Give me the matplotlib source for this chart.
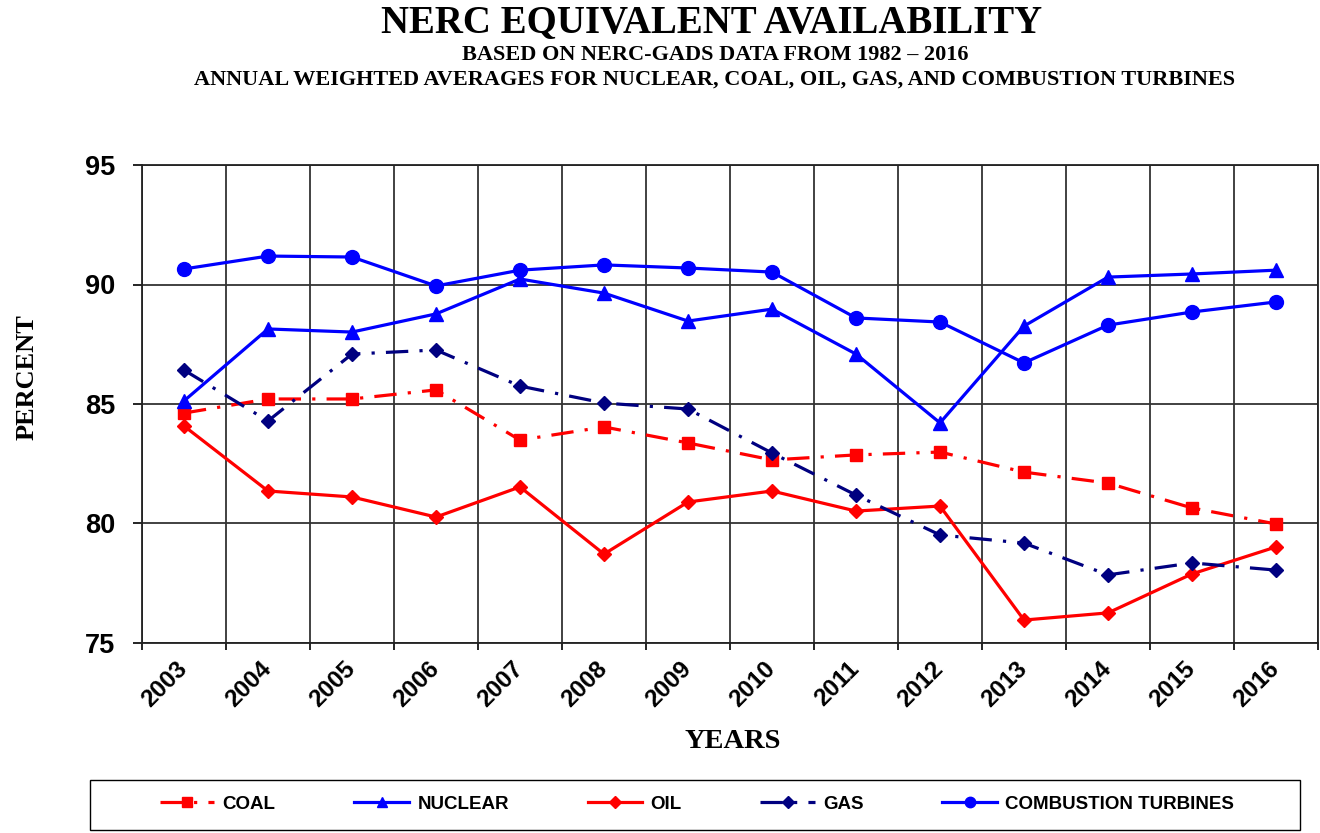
import matplotlib
matplotlib.use("Agg")
import matplotlib.pyplot as plt
from matplotlib.ticker import FixedLocator, MultipleLocator
from matplotlib.patches import Rectangle

years = ["2003", "2004", "2005", "2006", "2007", "2008", "2009",
         "2010", "2011", "2012", "2013", "2014", "2015", "2016"]
coal = [84.62, 85.21, 85.21, 85.59, 83.49, 84.04, 83.37, 82.66, 82.87, 82.99, 82.15, 81.69, 80.65, 79.98]
nuclear = [85.13, 88.14, 88.01, 88.77, 90.23, 89.64, 88.47, 88.97, 87.09, 84.21, 88.26, 90.31, 90.44, 90.60]
oil = [84.08, 81.36, 81.11, 80.27, 81.53, 78.72, 80.90, 81.36, 80.52, 80.73, 75.96, 76.26, 77.89, 79.02]
gas = [86.42, 84.29, 87.09, 87.26, 85.75, 85.04, 84.79, 82.95, 81.19, 79.52, 79.18, 77.85, 78.35, 78.05]
turbines = [90.65, 91.19, 91.15, 89.94, 90.60, 90.82, 90.69, 90.52, 88.60, 88.43, 86.72, 88.30, 88.85, 89.27]

W, H = 1320, 833
fig = plt.figure(figsize=(W / 100, H / 100), dpi=100)
ax = fig.add_axes([142 / W, 1 - 643 / H, (1318 - 142) / W, (643 - 165) / H])

x = list(range(len(years)))
lw = 2.3
dd = (7, 3.5, 1, 3.5)
ax.plot(x, coal, color="#FF0000", lw=lw, dashes=dd, marker="s", ms=9, label="COAL", zorder=3)
ax.plot(x, nuclear, color="#0000FF", lw=lw, marker="^", ms=9.5, label="NUCLEAR", zorder=3)
ax.plot(x, oil, color="#FF0000", lw=lw, marker="D", ms=7.5, label="OIL", zorder=3)
ax.plot(x, gas, color="#000080", lw=lw, dashes=dd, marker="D", ms=7.5, label="GAS", zorder=3)
ax.plot(x, turbines, color="#0000FF", lw=lw, marker="o", ms=10, label="COMBUSTION TURBINES", zorder=3)

ax.set_xlim(-0.5, len(years) - 0.5)
ax.set_ylim(75, 95)
ax.yaxis.set_major_locator(MultipleLocator(5))
ax.set_xticks(x)
ax.set_xticklabels(years, rotation=45, ha="right", va="center", rotation_mode="anchor",
                   fontsize=17.5, fontweight="bold", family="Liberation Sans")
ax.xaxis.set_minor_locator(FixedLocator([i - 0.5 for i in range(len(years) + 1)]))
ax.tick_params(axis="x", which="major", length=0, pad=16)
ax.tick_params(axis="x", which="minor", length=5, width=1.2, direction="out")
ax.tick_params(axis="y", length=6.5, width=1.2, direction="out", pad=13)
for lab in ax.get_yticklabels():
    lab.set_fontsize(19.5)
    lab.set_fontweight("bold")
    lab.set_family("Liberation Sans")

ax.grid(True, which="minor", axis="x", color="#333333", lw=1.3)
ax.grid(True, which="major", axis="y", color="#333333", lw=1.3)
ax.grid(False, which="major", axis="x")
for s in ax.spines.values():
    s.set_linewidth(1.3)
    s.set_color("#222222")

fig.text(712 / W, 1 - 23 / H, "NERC EQUIVALENT AVAILABILITY", ha="center", va="center",
         fontsize=28, fontweight="bold", family="Liberation Serif")
fig.text(715 / W, 1 - 55 / H, "BASED ON NERC-GADS DATA FROM 1982 \u2013 2016", ha="center", va="center",
         fontsize=16, fontweight="bold", family="Liberation Serif")
fig.text(715 / W, 1 - 80 / H,
         "ANNUAL WEIGHTED AVERAGES FOR NUCLEAR, COAL, OIL, GAS, AND COMBUSTION TURBINES",
         ha="center", va="center", fontsize=16, fontweight="bold", family="Liberation Serif")
fig.text(27 / W, 1 - 377 / H, "PERCENT", rotation=90, ha="center", va="center",
         fontsize=19, fontweight="bold", family="Liberation Serif")
fig.text(733 / W, 1 - 742 / H, "YEARS", ha="center", va="center",
         fontsize=20.5, fontweight="bold", family="Liberation Serif")

fig.patches.append(Rectangle((90 / W, 1 - 830 / H), (1300 - 90) / W, 50 / H,
                             transform=fig.transFigure, fill=False, edgecolor="black", lw=1.0))
leg = fig.legend(loc="center", bbox_to_anchor=(697 / W, 1 - 804 / H),
                 ncol=5, frameon=False,
                 prop={"family": "Liberation Sans", "weight": "bold", "size": 13.5},
                 handlelength=2.9, handletextpad=0.45, columnspacing=4.2, markerscale=0.75)

fig.savefig("out.png", dpi=100)
